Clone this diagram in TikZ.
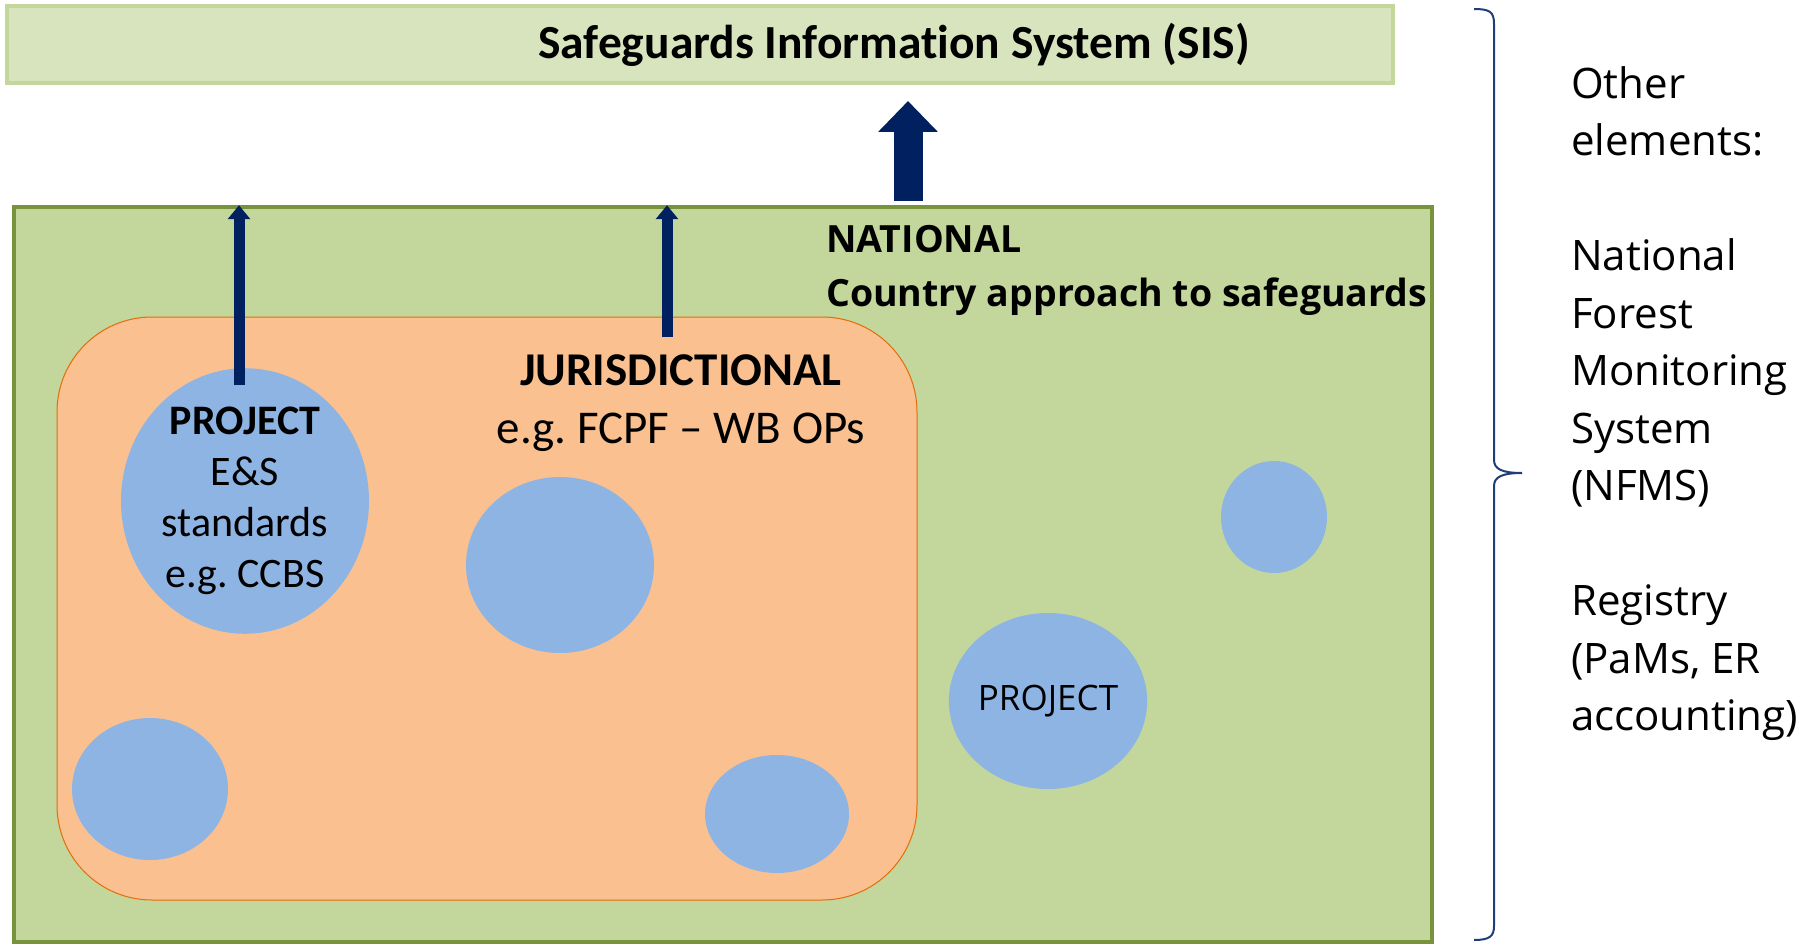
\documentclass[tikz,border=0pt]{standalone}
\usepackage{fontspec}
\setmainfont{Carlito}[Ligatures=NoCommon]
\newfontfamily\osans{Open Sans}
\frenchspacing
\usetikzlibrary{arrows.meta,shapes.geometric}
\definecolor{sisfill}{HTML}{D7E4BD}
\definecolor{sisline}{HTML}{C3D69B}
\definecolor{natfill}{HTML}{C3D69B}
\definecolor{natline}{HTML}{77933C}
\definecolor{jurfill}{HTML}{FAC090}
\definecolor{jurline}{HTML}{E46C0A}
\definecolor{blob}{HTML}{8EB4E3}
\definecolor{navy}{HTML}{002060}
\definecolor{bracec}{HTML}{1F3D7A}
\tikzset{
  blobnode/.style={ellipse, fill=blob, draw=none, inner sep=0pt, align=center},
  smallarr/.style={navy, line width=11pt, -{Triangle[length=14pt,width=22pt]}},
  bigarr/.style={navy, line width=29pt, -{Triangle[length=31pt,width=58pt]}},
}
\begin{document}
\begin{tikzpicture}[x=1pt,y=-1pt]
\useasboundingbox (0,0) rectangle (1802,944);
% SIS box
\node (sis) [draw=sisline, fill=sisfill, line width=4pt, minimum width=1386pt, minimum height=77pt, inner sep=0pt] at (700,44.5) {};
\node (sistext) [font={\fontsize{47.5}{56}\selectfont\bfseries}] at (894,45) {Safeguards Information System (SIS)};
% National box
\node (nat) [draw=natline, fill=natfill, line width=3.5pt, minimum width=1418pt, minimum height=735pt, inner sep=0pt] at (723,574.5) {};
% Jurisdictional box
\node (jur) [draw=jurline, fill=jurfill, line width=1pt, rounded corners=95pt, minimum width=860pt, minimum height=583pt, inner sep=0pt] at (487,608.5) {};
% blobs
\node (p1) [blobnode, minimum width=248pt, minimum height=240pt, font={\fontsize{42}{51}\selectfont}] at (245,501) {\textbf{PROJECT}\\E\&S\\standards\\e.g. CCBS};
\node (b2) [blobnode, minimum width=188pt, minimum height=176pt] at (560,565) {};
\node (b3) [blobnode, minimum width=156pt, minimum height=142pt] at (150,789) {};
\node (b4) [blobnode, minimum width=144pt, minimum height=118pt] at (777,814) {};
\node (p2) [blobnode, minimum width=188pt, minimum height=176pt, font={\osans\fontsize{35}{42}\selectfont}] at (1048,701) {PROJECT};
\node (b6) [blobnode, minimum width=106pt, minimum height=112pt] at (1274,517) {};
% texts
\node (jurtext) [align=center, inner sep=0pt, font={\fontsize{47}{58}\selectfont}] at (681,403) {\textbf{JURISDICTIONAL}\\e.g. FCPF – WB OPs};
\node (nattext) [align=left, anchor=north west, inner sep=0pt, font={\osans\fontsize{37.5}{54}\selectfont\bfseries}] at (826,225) {NATIONAL\\Country approach to safeguards};
\node (other) [align=left, anchor=north west, inner sep=0pt, font={\osans\fontsize{42}{57.5}\selectfont}] at (1571,66) {Other\\elements:\\[57.5pt]National\\Forest\\Monitoring\\System\\(NFMS)\\[57.5pt]Registry\\(PaMs, ER\\accounting)};
% arrows
\coordinate (p0) at (239,385);
\coordinate (j0) at (667,337);
\coordinate (n0) at (908,201);
\coordinate (s0) at (908,101);
\draw[smallarr] (p0) -- (p0 |- nat.north);
\draw[smallarr] (j0) -- (j0 |- nat.north);
\draw[bigarr] (n0) -- (s0);
% brace
\draw[bracec, line width=2pt] (1474,9) .. controls (1490,9) and (1494,12) .. (1494,24) -- (1494,460) .. controls (1494,469) and (1502,473) .. (1522,473) .. controls (1502,473) and (1494,477) .. (1494,486) -- (1494,926) .. controls (1494,936) and (1490,940) .. (1474,940);
\end{tikzpicture}
\end{document}
